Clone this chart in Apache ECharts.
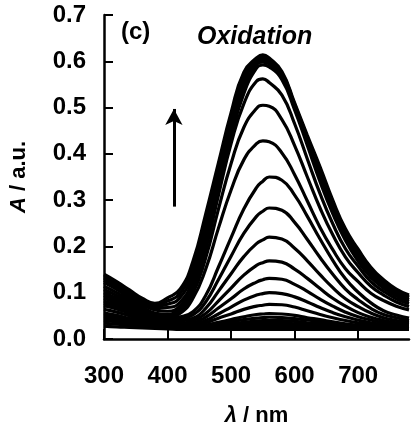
<!DOCTYPE html>
<html><head><meta charset="utf-8">
<script src="https://cdn.jsdelivr.net/npm/echarts@6/dist/echarts.min.js"></script>
<style>html,body{margin:0;padding:0;background:#fff}#c{width:413px;height:432px}</style>
</head><body><div id="c"></div>
<script>
const wavelengths = [300,320,340,360,380,400,420,440,460,480,500,520,540,550,560,580,600,620,640,660,680,700,720,740,760,780];
const xTicks = [300,400,500,600,700];
const yTicks = [0,0.1,0.2,0.3,0.4,0.5,0.6,0.7];

const s01 = [.028,.026,.025,.024,.023,.022,.021,.021,.021,.021,.021,.021,.021,.021,.021,.021,.021,.021,.021,.021,.021,.021,.021,.021,.021,.021];
const s02 = [.034,.032,.030,.028,.026,.025,.024,.023,.023,.024,.025,.026,.027,.027,.027,.027,.026,.026,.025,.024,.024,.023,.023,.023,.022,.022];
const s03 = [.040,.037,.034,.030,.028,.026,.025,.024,.025,.026,.027,.029,.030,.031,.031,.031,.030,.029,.027,.026,.025,.024,.024,.023,.023,.023];
const s04 = [.044,.041,.037,.032,.029,.027,.025,.025,.026,.028,.030,.032,.034,.035,.035,.035,.033,.032,.030,.028,.026,.025,.024,.024,.023,.023];
const s05 = [.048,.044,.039,.034,.031,.028,.026,.026,.027,.030,.033,.036,.039,.040,.040,.040,.038,.035,.033,.030,.028,.026,.025,.024,.024,.023];
const s06 = [.052,.048,.042,.036,.032,.029,.027,.026,.029,.033,.037,.042,.045,.046,.047,.046,.044,.041,.037,.033,.030,.028,.026,.025,.024,.024];
const s07 = [.056,.051,.044,.038,.033,.030,.028,.027,.030,.036,.042,.048,.053,.054,.055,.054,.051,.046,.042,.037,.033,.030,.028,.026,.025,.024];
const s08 = [.064,.058,.050,.042,.036,.031,.029,.030,.035,.045,.054,.064,.071,.073,.075,.074,.069,.061,.053,.046,.040,.035,.031,.028,.027,.026];
const s09 = [.072,.065,.055,.046,.039,.033,.031,.032,.040,.054,.069,.084,.095,.098,.100,.098,.091,.080,.068,.057,.048,.041,.035,.031,.029,.028];
const s10 = [.077,.069,.058,.048,.040,.034,.032,.035,.047,.067,.087,.108,.123,.128,.131,.129,.118,.103,.086,.071,.058,.048,.041,.035,.032,.030];
const s11 = [.082,.073,.062,.050,.042,.036,.035,.040,.055,.082,.110,.138,.159,.165,.169,.166,.151,.131,.109,.088,.071,.057,.047,.040,.035,.032];
const s12 = [.088,.078,.066,.053,.044,.040,.040,.045,.066,.103,.141,.178,.206,.214,.220,.216,.196,.169,.139,.111,.087,.070,.056,.046,.040,.036];
const s13 = [.094,.083,.070,.056,.046,.042,.044,.052,.080,.128,.179,.228,.265,.276,.283,.278,.252,.215,.176,.140,.108,.085,.066,.053,.046,.040];
const s14 = [.100,.088,.074,.059,.049,.045,.048,.059,.094,.155,.219,.281,.327,.341,.350,.343,.311,.265,.216,.170,.130,.101,.078,.061,.052,.045];
const s15 = [.107,.094,.078,.062,.051,.048,.056,.088,.151,.239,.322,.387,.422,.428,.426,.402,.355,.298,.241,.193,.152,.124,.099,.083,.071,.063];
const s16 = [.114,.100,.083,.065,.053,.050,.062,.099,.175,.280,.379,.457,.498,.505,.503,.474,.418,.350,.283,.225,.177,.143,.114,.095,.080,.070];
const s17 = [.122,.107,.088,.069,.056,.053,.068,.108,.193,.310,.422,.508,.557,.562,.554,.527,.465,.389,.314,.249,.195,.157,.124,.103,.087,.076];
const s18 = [.127,.112,.093,.074,.063,.060,.072,.117,.208,.325,.438,.530,.585,.592,.588,.560,.495,.418,.340,.271,.213,.168,.133,.110,.093,.081];
const s19 = [.131,.116,.097,.078,.067,.068,.080,.128,.224,.340,.452,.543,.592,.598,.594,.566,.500,.426,.350,.280,.221,.175,.140,.115,.098,.085];
const s20 = [.134,.119,.100,.082,.071,.075,.090,.142,.240,.354,.466,.556,.598,.604,.600,.571,.504,.432,.359,.288,.228,.182,.146,.120,.102,.089];
const s21 = [.137,.121,.103,.085,.074,.082,.099,.155,.255,.367,.478,.566,.603,.609,.604,.575,.507,.436,.366,.295,.233,.188,.150,.124,.105,.092];
const s22 = [.140,.124,.106,.088,.077,.089,.108,.168,.270,.380,.489,.576,.607,.614,.607,.578,.510,.440,.372,.300,.238,.194,.155,.128,.108,.095];

const arrowStart = [410, 0.286];
const arrowEnd = [410, 0.497];

const spectra = [s01,s02,s03,s04,s05,s06,s07,s08,s09,s10,s11,s12,s13,s14,s15,s16,s17,s18,s19,s20,s21,s22];
const FF = 'Liberation Sans, Arial, Helvetica, sans-serif';

const series = spectra.map(arr => ({
  type: 'line',
  data: wavelengths.map((w, j) => [w, arr[j]]),
  smooth: true,
  showSymbol: false,
  symbol: 'none',
  silent: true,
  lineStyle: { color: '#000', width: 3.2 }
}));
series[0].markLine = {
  silent: true,
  symbol: ['none', 'arrow'],
  symbolSize: [13, 16],
  label: { show: false },
  lineStyle: { color: '#000', width: 3, type: 'solid' },
  data: [[{ coord: arrowStart }, { coord: arrowEnd }]]
};

const chart = echarts.init(document.getElementById('c'));
chart.setOption({
  animation: false,
  backgroundColor: '#fff',
  grid: { left: 97, right: 4, top: 15, bottom: 87, containLabel: false },
  xAxis: {
    type: 'value', min: 300, max: 780, interval: 100,
    splitLine: { show: false },
    axisLine: { onZero: false, lineStyle: { color: '#000', width: 2.5 } },
    axisTick: { inside: true, length: 10, customValues: xTicks, lineStyle: { color: '#000', width: 2 } },
    axisLabel: { customValues: xTicks, color: '#000', fontSize: 24, fontWeight: 'bold', fontFamily: FF, margin: 25 },
    name: '{i|λ} / nm', nameLocation: 'middle', nameGap: 66,
    nameTextStyle: { color: '#000', fontSize: 22, fontWeight: 'bold', fontFamily: FF,
      rich: { i: { fontStyle: 'italic', fontSize: 22, fontWeight: 'bold', fontFamily: FF, color: '#000' } } }
  },
  yAxis: {
    type: 'value', min: 0, max: 0.7, interval: 0.1,
    splitLine: { show: false },
    axisLine: { show: true, onZero: false, lineStyle: { color: '#000', width: 2.5 } },
    axisTick: { show: true, inside: true, length: 9, customValues: yTicks, lineStyle: { color: '#000', width: 2 } },
    axisLabel: { customValues: yTicks, color: '#000', fontSize: 24, fontWeight: 'bold', fontFamily: FF, margin: 18,
      formatter: v => v.toFixed(1) },
    name: '{i|A} / a.u.', nameLocation: 'middle', nameGap: 74,
    nameTextStyle: { color: '#000', fontSize: 22, fontWeight: 'bold', fontFamily: FF,
      rich: { i: { fontStyle: 'italic', fontSize: 22, fontWeight: 'bold', fontFamily: FF, color: '#000' } } }
  },
  graphic: [
    { type: 'text', x: 121, y: 32, style: { text: '(c)', font: 'bold 24px ' + FF, fill: '#000', verticalAlign: 'middle' } },
    { type: 'text', x: 197, y: 37, style: { text: 'Oxidation', font: 'italic bold 25px ' + FF, fill: '#000', verticalAlign: 'middle' } }
  ],
  series: series
});
</script>
</body></html>
